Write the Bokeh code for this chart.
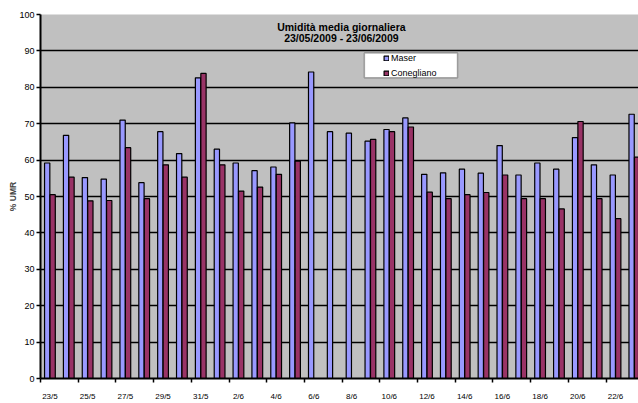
from bokeh.plotting import figure
from bokeh.models import (ColumnDataSource, Range1d, FixedTicker, Label,
                          BoxAnnotation, Legend, LegendItem)
from bokeh.transform import dodge
from bokeh.embed import file_html
from bokeh.resources import INLINE

# Daily mean relative humidity (%), 23/05/2009 - 23/06/2009
days = ["23/5", "24/5", "25/5", "26/5", "27/5", "28/5", "29/5", "30/5", "31/5",
        "1/6", "2/6", "3/6", "4/6", "5/6", "6/6", "7/6", "8/6", "9/6", "10/6",
        "11/6", "12/6", "13/6", "14/6", "15/6", "16/6", "17/6", "18/6", "19/6",
        "20/6", "21/6", "22/6", "23/6"]
maser = [59.2, 66.8, 55.2, 54.8, 71.0, 53.8, 67.8, 61.8, 82.6,
         63.0, 59.2, 57.1, 58.1, 70.2, 84.2, 67.8, 67.4, 65.2, 68.4,
         71.6, 56.1, 56.5, 57.5, 56.4, 64.0, 55.9, 59.2, 57.5,
         66.2, 58.7, 55.9, 72.6]
conegliano = [50.5, 55.3, 48.8, 48.9, 63.4, 49.4, 58.7, 55.3, 83.8,
              58.7, 51.5, 52.6, 56.1, 59.7, None, None, None, 65.7, 67.8,
              69.1, 51.2, 49.4, 50.5, 51.1, 55.9, 49.4, 49.4, 46.6,
              70.6, 49.4, 43.9, 60.8]
y_ticks = [0, 10, 20, 30, 40, 50, 60, 70, 80, 90, 100]

FONT = "Liberation Sans"
MASER_COLOR = "#9999FF"
CONE_COLOR = "#993366"

centers = [i + 0.5 for i in range(len(days))]
src_m = ColumnDataSource(dict(x=centers, top=maser))
src_c = ColumnDataSource(dict(
    x=[c for c, v in zip(centers, conegliano) if v is not None],
    top=[v for v in conegliano if v is not None]))

p = figure(width=638, height=403, output_backend="svg", toolbar_location=None,
           x_range=Range1d(0, 31.72), y_range=Range1d(0, 100),
           min_border_left=40, min_border_right=0, min_border_top=14,
           min_border_bottom=21)
p.background_fill_color = "#C0C0C0"
p.border_fill_color = "white"
p.outline_line_color = None

r_m = p.vbar(x=dodge("x", -0.145), top="top", width=0.28, bottom=0, source=src_m,
             fill_color=MASER_COLOR, line_color="black", line_width=1.2)
r_c = p.vbar(x=dodge("x", 0.145), top="top", width=0.28, bottom=0, source=src_c,
             fill_color=CONE_COLOR, line_color="black", line_width=1.2)

# grid
p.xgrid.visible = False
p.ygrid.ticker = FixedTicker(ticks=y_ticks)
p.ygrid.grid_line_color = "black"
p.ygrid.grid_line_width = 1.3

# y axis
ya = p.yaxis[0]
ya.ticker = FixedTicker(ticks=y_ticks)
ya.axis_line_color = "black"
ya.axis_line_width = 2
ya.major_tick_out = 4
ya.major_tick_in = 0
ya.major_tick_line_width = 1.5
ya.minor_tick_line_color = None
ya.major_label_text_font = FONT
ya.major_label_text_font_size = "9px"
ya.major_label_text_color = "black"
ya.major_label_standoff = 2
ya.axis_label = "% UMR"
ya.axis_label_text_font = FONT
ya.axis_label_text_font_size = "8.5px"
ya.axis_label_text_font_style = "bold"
ya.axis_label_standoff = -2

# x axis: labels on every other day, tick marks on day boundaries
xa = p.xaxis[0]
label_pos = [centers[i] for i in range(0, len(days), 2)]
xa.ticker = FixedTicker(ticks=label_pos, minor_ticks=list(range(0, 33, 2)))
xa.major_label_overrides = {centers[i]: days[i] for i in range(0, len(days), 2)}
xa.major_tick_line_color = None
xa.major_tick_out = 0
xa.major_tick_in = 0
xa.minor_tick_line_color = "black"
xa.minor_tick_line_width = 1.5
xa.minor_tick_out = 4
xa.minor_tick_in = 0
xa.axis_line_color = "black"
xa.axis_line_width = 2
xa.major_label_text_font = FONT
xa.major_label_text_font_size = "8px"
xa.major_label_text_color = "black"
xa.major_label_standoff = 9

# title inside the plot area
for txt, yy in (("Umidità media giornaliera", 96.6),
                ("23/05/2009 - 23/06/2009", 93.5)):
    p.add_layout(Label(x=15.96, y=yy, text=txt, text_font=FONT,
                       text_font_size="10.5px", text_font_style="bold",
                       text_align="center", text_baseline="middle",
                       text_color="black"))

# legend box
p.add_layout(BoxAnnotation(left=17.18, right=22.12, bottom=82.6, top=89.4,
                           fill_color="white", fill_alpha=1.0,
                           line_color="black", line_width=1.5))
legend = Legend(items=[LegendItem(label="Maser", renderers=[r_m]),
                       LegendItem(label="Conegliano", renderers=[r_c])],
                location=(343, 299), orientation="vertical",
                glyph_width=6, glyph_height=6, label_height=12, spacing=3,
                label_standoff=2, padding=0, margin=0,
                label_text_font=FONT, label_text_font_size="9px",
                label_text_color="black",
                background_fill_alpha=0, border_line_color=None)
p.add_layout(legend)

open("out.html", "w").write(file_html(p, INLINE))
